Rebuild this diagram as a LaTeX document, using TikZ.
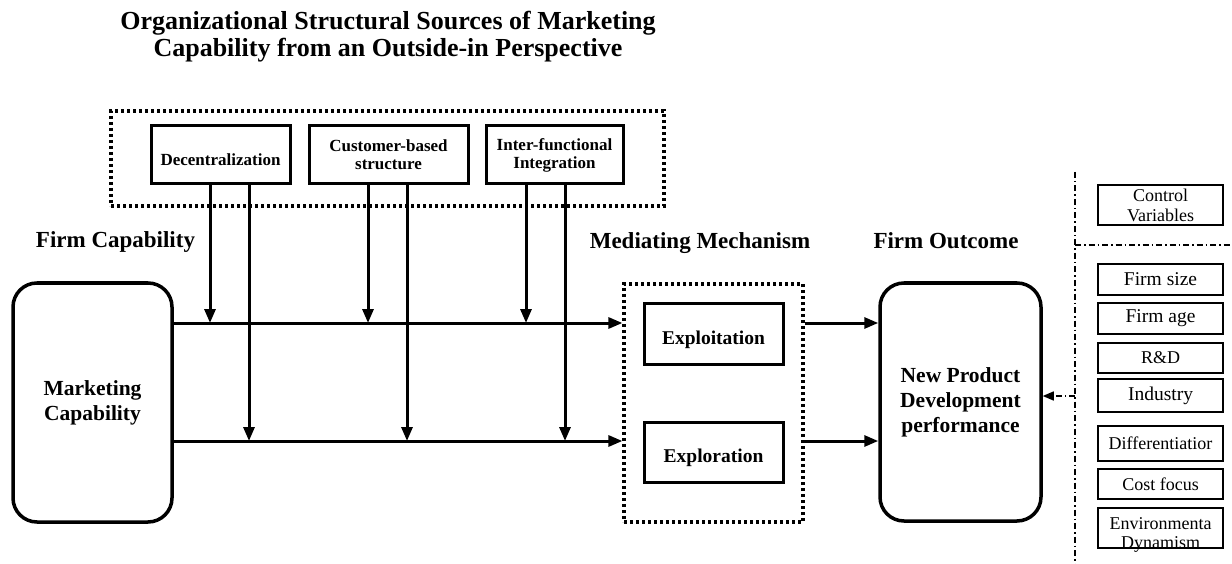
\documentclass[tikz,border=0pt]{standalone}
\usepackage{fontspec}
\setmainfont{Liberation Serif}
\usetikzlibrary{arrows.meta}

\tikzset{
  mainbox/.style={draw, line width=3.5pt, rounded corners=24pt, align=center,
    font=\bfseries\fontsize{21.5}{25}\selectfont},
  srcbox/.style={draw, line width=3pt, minimum height=58pt, inner sep=0pt, align=center,
    font=\bfseries\fontsize{17}{18}\selectfont},
  srctext/.style={font=\bfseries\fontsize{17}{18}\selectfont},
  dotbox/.style={draw, line width=3.2pt, dash pattern=on 3pt off 3pt},
  medbox/.style={draw, line width=3pt, minimum width=139pt, inner sep=0pt},
  medtext/.style={font=\bfseries\fontsize{19.5}{22}\selectfont, yshift=-6pt},
  ctrlbox/.style={draw, line width=1.4pt, minimum width=125pt, inner sep=0pt, align=center,
    font=\fontsize{18}{20}\selectfont},
  ctrlbig/.style={ctrlbox, font=\fontsize{19.5}{21}\selectfont},
  heading/.style={font=\bfseries\fontsize{23}{26}\selectfont},
  flow/.style={line width=3pt},
  dashdot/.style={line width=1.4pt, dash pattern=on 6pt off 3pt on 1.5pt off 3pt},
}

\begin{document}
\begin{tikzpicture}[x=1pt, y=-1pt, >={Triangle[length=14pt,width=11pt]}]
\useasboundingbox (0,0) rectangle (1232,564);

% title
\node[font=\bfseries\fontsize{26}{27}\selectfont, align=center] (title) at (388,37)
  {Organizational Structural Sources of Marketing\\Capability from an Outside-in Perspective};

% structural sources
\node[dotbox, minimum width=553pt, minimum height=95pt] (src) at (387.5,158.5) {};
\node[srcbox, minimum width=139pt,
  label={[srctext, yshift=-5pt]center:Decentralization}] (dec) at (220.5,155) {};
\node[srcbox, minimum width=159pt] (cus) at (388.5,155) {Customer-based\\structure};
\node[srcbox, minimum width=137pt] (int) at (554.5,155) {Inter-functional\\Integration};

% headings
\node[heading] (fcap) at (115.5,242) {Firm Capability};
\node[heading] (mech) at (700,243) {Mediating Mechanism};
\node[heading] (fout) at (946,241) {Firm Outcome};

% main boxes
\node[mainbox, minimum width=159pt, minimum height=239pt] (mkt) at (92.5,402.5) {Marketing\\Capability};
\node[dotbox, minimum width=179pt, minimum height=238pt] (med) at (713.5,403) {};
\node[medbox, minimum height=61pt, label={[medtext]center:Exploitation}] (expt) at (713.5,333.5) {};
\node[medbox, minimum height=60pt, label={[medtext]center:Exploration}] (expr) at (713.5,452) {};
\node[mainbox, minimum width=161pt, minimum height=238pt] (npd) at (960.5,402)
  {New Product\\Development\\performance};

% paths
\coordinate (top) at (0,323);
\coordinate (bot) at (0,441);
\draw[flow,->] (mkt.east |- top) -- (med.west |- top);
\draw[flow,->] (mkt.east |- bot) -- (med.west |- bot);
\foreach \n/\xa/\xb in {dec/210/249, cus/368/407, int/526/565} {
  \coordinate (la) at (\xa,0);
  \coordinate (lb) at (\xb,0);
  \draw[flow,->] (\n.south -| la) -- (la |- top);
  \draw[flow,->] (\n.south -| lb) -- (lb |- bot);
}
\draw[flow,->] (med.east |- top) -- (npd.west |- top);
\draw[flow,->] (med.east |- bot) -- (npd.west |- bot);

% control variables
\coordinate (ctop) at (1075,172);
\coordinate (cbot) at (1075,564);
\coordinate (csep) at (1075,245);
\coordinate (cend) at (1232,245);
\draw[dashdot] (ctop) -- (cbot);
\draw[dashdot] (csep) -- (cend);
\node[ctrlbox, minimum height=40pt] (ctrl) at (1160.5,205) {Control\\Variables};
\node[ctrlbig, minimum height=31pt] (size) at (1160.5,279.5) {Firm size};
\node[ctrlbig, minimum height=31pt] (age) at (1160.5,318.5) {Firm age};
\node[ctrlbox, minimum height=30pt] (rd) at (1160.5,358) {R\&D};
\node[ctrlbig, minimum height=33pt] (ind) at (1160.5,395.5) {Industry};
\node[ctrlbox, minimum height=35pt] (diff) at (1160.5,443.5) {Differentiatior};
\node[ctrlbox, minimum height=30pt] (cost) at (1160.5,484) {Cost focus};
\node[ctrlbox, minimum height=40pt,
  label={[align=center, font=\fontsize{18}{19}\selectfont, yshift=-7pt]center:Environmenta\\Dynamism}]
  (env) at (1160.5,528) {};
\coordinate (cin) at (1075,396);
\draw[dashdot,-{Triangle[length=11pt,width=9pt]}] (cin) -- (npd.east |- cin);
\end{tikzpicture}
\end{document}
